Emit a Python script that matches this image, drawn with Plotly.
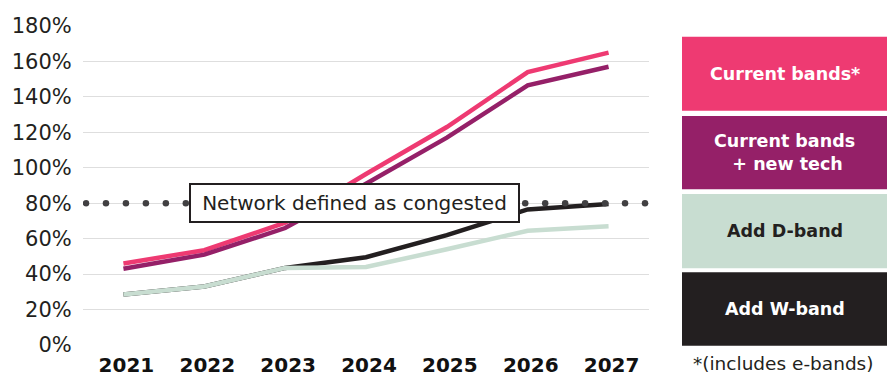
import plotly.graph_objects as go
import numpy as np

years = ["2021", "2022", "2023", "2024", "2025", "2026", "2027"]
current_bands = [46, 53.5, 69, 96.5, 123, 154, 165]
current_bands_new_tech = [43, 51, 66, 91, 117, 146.5, 157]
add_d_band = [28.5, 33, 43.5, 44, 54, 64.5, 67]
add_w_band = [28.5, 33, 43.5, 49.5, 62, 76.5, 79.5]
congestion_threshold = 80

legend_labels = ["Current bands*", "Current bands<br> + new tech", "Add D-band", "Add W-band"]
legend_colors = ["#EE3A72", "#952068", "#C8DDD1", "#231F20"]
legend_text_colors = ["#FFFFFF", "#FFFFFF", "#231F20", "#FFFFFF"]
footnote = "*(includes e-bands)"
threshold_label = "Network defined as congested"

FONT = "DejaVu Sans"
W, H = 896, 376
OFF = 8  # page body margin
L, R, T, B = 75, 255, 18, 39
pw = W - L - R
ph = H - T - B

def px_x(x):
    return (x - OFF - L) / pw

def px_y(y):
    return (H - B - (y - OFF)) / ph

fig = go.Figure()

# draw order: black under green, purple, pink
fig.add_trace(go.Scatter(x=years, y=add_w_band, mode="lines",
                         line=dict(color=legend_colors[3], width=4.5), name="Add W-band"))
fig.add_trace(go.Scatter(x=years, y=add_d_band, mode="lines",
                         line=dict(color=legend_colors[2], width=4.5), name="Add D-band"))
fig.add_trace(go.Scatter(x=years, y=current_bands, mode="lines",
                         line=dict(color=legend_colors[0], width=4.5), name="Current bands*"))
fig.add_trace(go.Scatter(x=years, y=current_bands_new_tech, mode="lines",
                         line=dict(color=legend_colors[1], width=4.5), name="Current bands + new tech"))

# dotted congestion line as round dots on an overlay axis
ndots = 29
dot_x = np.linspace(px_x(86), px_x(645), ndots)
fig.add_trace(go.Scatter(x=dot_x, y=[congestion_threshold] * ndots, mode="markers",
                         marker=dict(color="#414042", size=6.5), xaxis="x2",
                         showlegend=False, hoverinfo="skip"))

fig.update_layout(
    width=W, height=H,
    margin=dict(l=L, r=R, t=T, b=B),
    paper_bgcolor="white", plot_bgcolor="white",
    showlegend=False,
    font=dict(family=FONT, color="#231F20"),
    xaxis=dict(type="category", range=[-0.5, 6.5], showgrid=False, zeroline=False,
               showline=False, ticks="outside", ticklen=2, tickcolor="rgba(0,0,0,0)",
               automargin=False, ticklabelshift=3,
               tickfont=dict(family=FONT, size=20, color="#111111", weight="bold")),
    xaxis2=dict(overlaying="x", range=[0, 1], visible=False),
    yaxis=dict(range=[0, 180], dtick=20, ticksuffix="%", showgrid=True,
               gridcolor="#DEDEDE", gridwidth=1.2, zeroline=False, showline=False,
               ticks="outside", ticklen=6, tickcolor="rgba(0,0,0,0)", automargin=False,
               tickfont=dict(family=FONT, size=21, color="#231F20")),
)

# threshold label box
fig.add_annotation(x=px_x(354.5), y=congestion_threshold, xref="paper", yref="y",
                   text=threshold_label, showarrow=False,
                   font=dict(family=FONT, size=20, color="#231F20"),
                   bgcolor="white", bordercolor="#231F20", borderwidth=2,
                   width=325, height=34, xanchor="center", yanchor="middle")

# legend boxes
box_px = [(36.7, 110.7), (116, 189.3), (194, 268.3), (272.3, 345.7)]
for (y0, y1), lab, col, tcol in zip(box_px, legend_labels, legend_colors, legend_text_colors):
    fig.add_shape(type="rect", xref="paper", yref="paper",
                  x0=px_x(682), x1=px_x(887), y0=px_y(y1), y1=px_y(y0),
                  fillcolor=col, line=dict(width=0), layer="above")
    fig.add_annotation(xref="paper", yref="paper", x=px_x(784.5), y=px_y((y0 + y1) / 2),
                       text=lab, showarrow=False, xanchor="center", yanchor="middle",
                       font=dict(family=FONT, size=17.5, color=tcol, weight="bold"))

fig.add_annotation(xref="paper", yref="paper", x=px_x(782.5), y=px_y(363),
                   text=footnote, showarrow=False, xanchor="center", yanchor="middle",
                   font=dict(family=FONT, size=18.5, color="#231F20"))

fig.write_html("out.html")
